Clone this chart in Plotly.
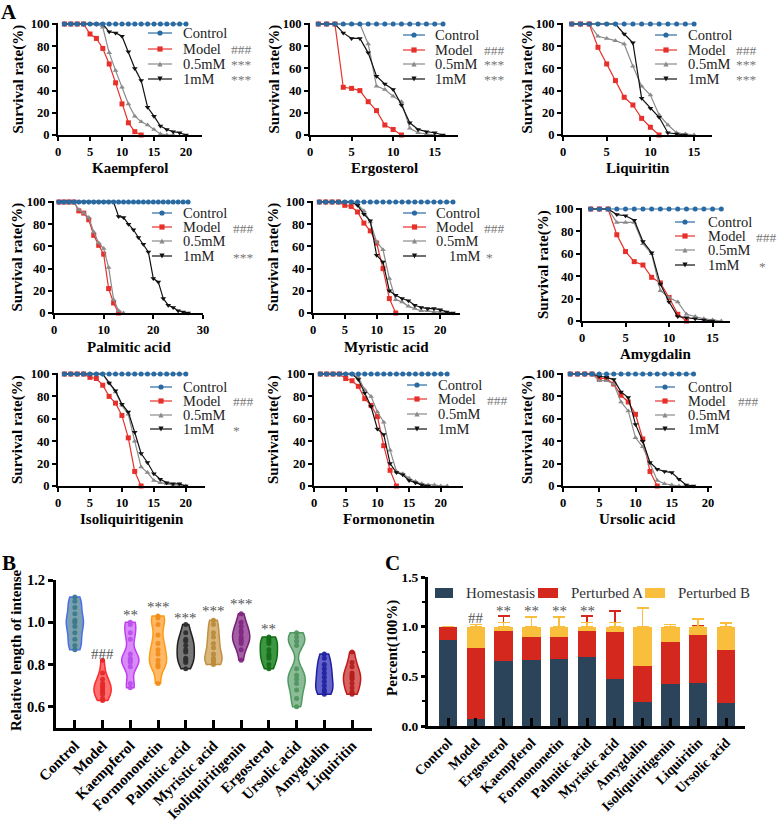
import plotly.graph_objects as go

W, H = 778, 821
SERIF = "Liberation Serif"

def fx(x):
    return x / W

def fy(y):
    return 1 - y / H

# ---------------- Panel A: survival curves (values in %, day = index + 1) ----------------
kaempferol_control = [100, 100, 100, 100, 100, 100, 100, 100, 100, 100, 100, 100, 100, 100, 100, 100, 100, 100, 100, 100]
kaempferol_model = [100, 100, 100, 100, 91, 87, 78, 64, 47, 28, 11, 3, 0]
kaempferol_05mM = [100, 100, 100, 100, 100, 100, 97, 74, 58, 43, 28, 17, 12, 9, 5, 1, 0, 0]
kaempferol_1mM = [100, 100, 100, 100, 100, 100, 100, 93, 92, 89, 75, 60, 49, 25, 17, 8, 5, 3, 2, 0]

ergosterol_control = [100, 100, 100, 100, 100, 100, 100, 100, 100, 100, 100, 100, 100, 100, 100, 100]
ergosterol_model = [100, 100, 100, 43, 42, 40, 30, 22, 9, 5, 0]
ergosterol_05mM = [100, 100, 100, 100, 100, 100, 82, 44, 41, 35, 30, 6, 2, 1, 0]
ergosterol_1mM = [100, 100, 100, 92, 87, 87, 74, 53, 46, 41, 27, 11, 5, 3, 2, 0]

liquiritin_control = [100, 100, 100, 100, 100, 100, 100, 100, 100, 100, 100, 100, 100, 100, 100]
liquiritin_model = [100, 100, 100, 79, 64, 49, 34, 27, 15, 7, 0]
liquiritin_05mM = [100, 100, 100, 89, 87, 85, 82, 62, 44, 36, 18, 9, 2, 1, 0]
liquiritin_1mM = [100, 100, 100, 100, 100, 100, 91, 83, 33, 24, 16, 2, 1, 0]

palmitic_control = [100, 100, 100, 100, 100, 100, 100, 100, 100, 100, 100, 100, 100, 100,
                    100, 100, 100, 100, 100, 100, 100, 100, 100, 100, 100, 100, 100]
palmitic_model = [100, 100, 100, 100, 92, 90, 84, 70, 61, 53, 22, 9, 0]
palmitic_05mM = [100, 100, 100, 100, 93, 90, 86, 73, 63, 58, 41, 12, 2, 0]
palmitic_1mM = [100, 100, 100, 100, 100, 100, 100, 100, 100, 100, 100, 100, 87, 86, 80, 75,
                68, 62, 55, 31, 28, 13, 7, 5, 2, 1, 0]

myristic_control = [100, 100, 100, 100, 100, 100, 100, 100, 100, 100, 100,
                    100, 100, 100, 100, 100, 100, 100, 100, 100, 100, 100]
myristic_model = [100, 100, 100, 100, 97, 96, 91, 81, 74, 63, 40, 13, 0]
myristic_05mM = [100, 100, 100, 100, 100, 100, 98, 92, 82, 64, 57, 31, 12, 10, 6, 4, 2, 2, 1, 1, 0]
myristic_1mM = [100, 100, 100, 100, 100, 100, 97, 89, 83, 52, 46, 20, 16, 13, 11, 7, 5, 4, 4, 3, 1, 0]

amygdalin_control = [100, 100, 100, 100, 100, 100, 100, 100, 100, 100, 100, 100, 100, 100, 100, 100]
amygdalin_model = [100, 100, 100, 77, 62, 53, 50, 39, 34, 21, 6, 0]
amygdalin_05mM = [100, 100, 100, 88, 88, 88, 69, 60, 27, 21, 17, 6, 4, 2, 1, 0]
amygdalin_1mM = [100, 100, 100, 95, 94, 90, 71, 61, 33, 17, 4, 3, 2, 1, 0]

isoliq_control = [100, 100, 100, 100, 100, 100, 100, 100, 100, 100, 100, 100, 100, 100, 100, 100, 100, 100, 100, 100]
isoliq_model = [100, 100, 100, 100, 97, 96, 90, 80, 74, 63, 43, 13, 0]
isoliq_05mM = [100, 100, 100, 100, 100, 100, 100, 92, 84, 72, 64, 40, 17, 12, 5, 3, 2, 1, 1, 0]
isoliq_1mM = [100, 100, 100, 100, 100, 100, 100, 92, 85, 73, 66, 48, 29, 21, 11, 6, 3, 2, 2, 0]

formononetin_control = [100, 100, 100, 100, 100, 100, 100, 100, 100, 100, 100,
                        100, 100, 100, 100, 100, 100, 100, 100, 100, 100]
formononetin_model = [100, 100, 100, 100, 96, 94, 89, 78, 72, 62, 36, 14, 0]
formononetin_05mM = [100, 100, 100, 100, 100, 100, 97, 86, 80, 66, 57, 32, 13, 11, 7, 4, 2, 1, 1, 0, 0]
formononetin_1mM = [100, 100, 100, 100, 100, 100, 95, 83, 71, 51, 46, 20, 12, 10, 5, 3, 1, 0]

ursolic_control = [100, 100, 100, 100, 100, 100, 100, 100, 100, 100, 100, 100, 100, 100, 100, 100, 100, 100]
ursolic_model = [100, 100, 100, 100, 96, 96, 91, 81, 75, 64, 42, 13, 0]
ursolic_05mM = [100, 100, 100, 100, 94, 94, 91, 75, 67, 43, 35, 20, 5, 2, 1, 0, 0]
ursolic_1mM = [100, 100, 100, 100, 98, 97, 95, 84, 79, 55, 40, 21, 15, 13, 12, 6, 1, 0]

series_names = ["Control", "Model", "0.5mM", "1mM"]

# ---------------- Panel B: relative length of intestine ----------------
b_categories = ["Control", "Model", "Kaempferol", "Formononetin", "Palmitic acid", "Myristic acid",
                "Isoliquiritigenin", "Ergosterol", "Ursolic acid", "Amygdalin", "Liquiritin"]
b_control = [1.12, 1.10, 1.07, 1.04, 1.01, 1.00, 0.98, 0.95, 0.92, 0.89, 0.87]
b_model = [0.82, 0.76, 0.73, 0.71, 0.70, 0.69, 0.68, 0.67, 0.66, 0.64, 0.63]
b_kaempferol = [1.00, 0.99, 0.95, 0.92, 0.85, 0.83, 0.82, 0.81, 0.79, 0.71, 0.69]
b_formononetin = [1.03, 1.02, 0.99, 0.94, 0.90, 0.87, 0.85, 0.82, 0.80, 0.79, 0.71]
b_palmitic = [0.99, 0.95, 0.92, 0.91, 0.89, 0.87, 0.86, 0.83, 0.82, 0.81, 0.78]
b_myristic = [1.01, 0.99, 0.95, 0.93, 0.90, 0.88, 0.85, 0.83, 0.82, 0.81, 0.80]
b_isoliq = [1.04, 1.00, 0.98, 0.96, 0.95, 0.93, 0.92, 0.91, 0.90, 0.87, 0.82]
b_ergosterol = [0.93, 0.92, 0.91, 0.90, 0.87, 0.85, 0.84, 0.83, 0.80, 0.78]
b_ursolic = [0.95, 0.93, 0.91, 0.89, 0.78, 0.75, 0.73, 0.71, 0.68, 0.64, 0.60]
b_amygdalin = [0.85, 0.83, 0.80, 0.78, 0.76, 0.74, 0.72, 0.70, 0.68, 0.67, 0.66]
b_liquiritin = [0.86, 0.81, 0.79, 0.76, 0.75, 0.74, 0.73, 0.71, 0.69, 0.67, 0.66]
b_values = [b_control, b_model, b_kaempferol, b_formononetin, b_palmitic, b_myristic,
            b_isoliq, b_ergosterol, b_ursolic, b_amygdalin, b_liquiritin]
b_sig_labels = ["", "###", "**", "***", "***", "***", "***", "**", "", "", ""]
b_sig_y = [0, 0.85, 1.035, 1.07, 1.02, 1.053, 1.085, 0.968, 0, 0, 0]

# ---------------- Panel C: phenotype percentages ----------------
c_categories = ["Control", "Model", "Ergosterol", "Kaempferol", "Formononetin", "Palmitic acid",
                "Myristic acid", "Amygdalin", "Isoliquiritigenin", "Liquiritin", "Ursolic acid"]
c_homeostasis = [0.87, 0.07, 0.655, 0.66, 0.67, 0.69, 0.47, 0.245, 0.423, 0.436, 0.228]
c_perturbed_a = [0.13, 0.72, 0.30, 0.24, 0.23, 0.27, 0.48, 0.355, 0.425, 0.48, 0.535]
c_perturbed_b = [0.0, 0.21, 0.045, 0.10, 0.10, 0.04, 0.05, 0.40, 0.152, 0.084, 0.237]
c_err_homeostasis = [0.0, 0.01, 0.11, 0.065, 0.145, 0.19, 0.16, 0.35, 0.155, 0.0, 0.105]
c_err_perturbed_a = [0.0, 0.03, 0.15, 0.035, 0.045, 0.15, 0.21, 0.06, 0.175, 0.09, 0.14]
c_err_perturbed_b = [0.0, 0.02, 0.04, 0.10, 0.10, 0.04, 0.04, 0.185, 0.02, 0.08, 0.035]
c_zero = [0, 0, 0, 0, 0, 0, 0, 0, 0, 0, 0]
c_series = ["Homestasis", "Perturbed A", "Perturbed B"]
c_sig_labels = ["", "##", "**", "**", "**", "**", "", "", "", "", ""]
c_sig_y = [0, 1.09, 1.16, 1.16, 1.16, 1.16, 0, 0, 0, 0, 0]

# ---------------- styling / layout ----------------
COL = {"Control": "#2a6aa3", "Model": "#e8302a", "0.5mM": "#8a8a8a", "1mM": "#111111"}
SYM = {"Control": "circle", "Model": "square", "0.5mM": "triangle-up", "1mM": "triangle-down"}

panels = [
    dict(title="Kaempferol", data=[kaempferol_control, kaempferol_model, kaempferol_05mM, kaempferol_1mM],
         x0=58, x1=202, xr=22.5, yt=24, yb=135, dtick=5, ty=168, yx=18,
         leg=dict(l0=148, l1=172, tx=182, rows=[33, 49, 64, 79]),
         marks=[None, ("###", 230), ("***", 230), ("***", 230)]),
    dict(title="Ergosterol", data=[ergosterol_control, ergosterol_model, ergosterol_05mM, ergosterol_1mM],
         x0=310, x1=458, xr=17.8, yt=24, yb=135, dtick=5, ty=168, yx=274,
         leg=dict(l0=403, l1=425, tx=434, rows=[35, 50, 64, 79]),
         marks=[None, ("###", 483), ("***", 483), ("***", 483)]),
    dict(title="Liquiritin", data=[liquiritin_control, liquiritin_model, liquiritin_05mM, liquiritin_1mM],
         x0=563, x1=712, xr=17.05, yt=24, yb=135, dtick=5, ty=168, yx=527,
         leg=dict(l0=655, l1=677, tx=687, rows=[35, 50, 64, 79]),
         marks=[None, ("###", 735), ("***", 735), ("***", 735)]),
    dict(title="Palmitic acid", data=[palmitic_control, palmitic_model, palmitic_05mM, palmitic_1mM],
         x0=54, x1=203, xr=30, yt=202, yb=313, dtick=10, ty=347, yx=17,
         leg=dict(l0=152, l1=172, tx=182, rows=[213, 227, 241, 256]),
         marks=[None, ("###", 232), None, ("***", 232)]),
    dict(title="Myristic acid", data=[myristic_control, myristic_model, myristic_05mM, myristic_1mM],
         x0=313, x1=460, xr=23.1, yt=202, yb=313, dtick=5, ty=347, yx=273,
         leg=dict(l0=403, l1=426, tx=435, rows=[213, 227, 241, 256], tx_last=448),
         marks=[None, ("###", 483), None, ("*", 485)]),
    dict(title="Amygdalin", data=[amygdalin_control, amygdalin_model, amygdalin_05mM, amygdalin_1mM],
         x0=582, x1=730, xr=17, yt=209, yb=321, dtick=5, ty=354, yx=543,
         leg=dict(l0=675, l1=695, tx=707, rows=[222, 236, 250, 265]),
         marks=[None, ("###", 755), None, ("*", 758)]),
    dict(title="Isoliquiritigenin", data=[isoliq_control, isoliq_model, isoliq_05mM, isoliq_1mM],
         x0=58, x1=205, xr=23, yt=374, yb=486, dtick=5, ty=519, yx=17,
         leg=dict(l0=150, l1=172, tx=182, rows=[387, 401, 415, 429]),
         marks=[None, ("###", 232), None, ("*", 232)]),
    dict(title="Formononetin", data=[formononetin_control, formononetin_model, formononetin_05mM, formononetin_1mM],
         x0=314, x1=463, xr=23.5, yt=374, yb=486, dtick=5, ty=519, yx=273,
         leg=dict(l0=407, l1=427, tx=437, rows=[385, 399, 414, 429]),
         marks=[None, ("###", 486), None, None]),
    dict(title="Ursolic acid", data=[ursolic_control, ursolic_model, ursolic_05mM, ursolic_1mM],
         x0=563, x1=712, xr=20.55, yt=374, yb=486, dtick=5, ty=519, yx=527,
         leg=dict(l0=655, l1=675, tx=687, rows=[387, 401, 415, 429]),
         marks=[None, ("###", 737), None, None]),
]

fig = go.Figure()
layout = dict(width=W, height=H, margin=dict(l=0, r=0, t=0, b=0, autoexpand=False), paper_bgcolor="white",
              plot_bgcolor="rgba(0,0,0,0)", font=dict(family=SERIF, color="#111"), showlegend=False)
annotations = []
shapes = []

YMAX = 101.0
for i, p in enumerate(panels, start=1):
    xa = "x" if i == 1 else f"x{i}"
    ya = "y" if i == 1 else f"y{i}"
    ppu = (p["yb"] - p["yt"]) / 100.0
    ytop_px = p["yb"] - YMAX * ppu
    layout["xaxis" if i == 1 else f"xaxis{i}"] = dict(
        domain=[fx(p["x0"]), fx(p["x1"])], range=[0, p["xr"]], anchor=ya, automargin=False,
        showline=True, linecolor="black", linewidth=2, ticks="outside", ticklen=4, tickwidth=2,
        tickcolor="black", dtick=p["dtick"], tick0=0, showgrid=False, zeroline=False,
        tickfont=dict(family=SERIF, size=12.5, color="black", weight="bold"), fixedrange=True)
    layout["yaxis" if i == 1 else f"yaxis{i}"] = dict(
        domain=[fy(p["yb"]), fy(ytop_px)], range=[0, YMAX], anchor=xa, automargin=False,
        showline=True, linecolor="black", linewidth=2, ticks="outside", ticklen=4, tickwidth=2,
        tickcolor="black", tickvals=[0, 20, 40, 60, 80, 100], showgrid=False, zeroline=False,
        tickfont=dict(family=SERIF, size=12.5, color="black", weight="bold"), fixedrange=True)
    for k in [1, 2, 3, 0]:
        nm = series_names[k]
        vals = p["data"][k]
        fig.add_trace(go.Scatter(
            x=list(range(1, len(vals) + 1)), y=vals, mode="lines+markers", name=nm,
            line=dict(color=COL[nm], width=1.2),
            marker=dict(symbol=SYM[nm], size=5, color=COL[nm]),
            xaxis=xa, yaxis=ya, showlegend=False, cliponaxis=False))
    annotations.append(dict(text=p["title"], x=fx((p["x0"] + p["x1"]) / 2), y=fy(p["ty"]),
                            xref="paper", yref="paper", showarrow=False, xanchor="center", yanchor="middle",
                            font=dict(family=SERIF, size=15, color="black", weight="bold")))
    annotations.append(dict(text="Survival rate(%)", x=fx(p["yx"]), y=fy((p["yt"] + p["yb"]) / 2),
                            xref="paper", yref="paper", showarrow=False, textangle=-90,
                            xanchor="center", yanchor="middle", borderpad=0,
                            font=dict(family=SERIF, size=15, color="black", weight="bold")))
    lg = p["leg"]
    for k, nm in enumerate(series_names):
        ry = lg["rows"][k]
        shapes.append(dict(type="line", xref="paper", yref="paper", x0=fx(lg["l0"]), x1=fx(lg["l1"]),
                           y0=fy(ry), y1=fy(ry), line=dict(color=COL[nm], width=1.2)))
        cx = (lg["l0"] + lg["l1"]) / 2
        s = 2.6
        if nm == "Control":
            shapes.append(dict(type="circle", xref="paper", yref="paper", x0=fx(cx - s), x1=fx(cx + s),
                               y0=fy(ry + s), y1=fy(ry - s), fillcolor=COL[nm], line=dict(width=0)))
        elif nm == "Model":
            shapes.append(dict(type="rect", xref="paper", yref="paper", x0=fx(cx - s), x1=fx(cx + s),
                               y0=fy(ry + s), y1=fy(ry - s), fillcolor=COL[nm], line=dict(width=0)))
        elif nm == "0.5mM":
            shapes.append(dict(type="path", xref="paper", yref="paper",
                               path=f"M {fx(cx - s)},{fy(ry + s)} L {fx(cx + s)},{fy(ry + s)} L {fx(cx)},{fy(ry - s)} Z",
                               fillcolor=COL[nm], line=dict(width=0)))
        else:
            shapes.append(dict(type="path", xref="paper", yref="paper",
                               path=f"M {fx(cx - s)},{fy(ry - s)} L {fx(cx + s)},{fy(ry - s)} L {fx(cx)},{fy(ry + s)} Z",
                               fillcolor=COL[nm], line=dict(width=0)))
        tx = lg["tx"]
        if k == 3 and "tx_last" in lg:
            tx = lg["tx_last"]
        annotations.append(dict(text=nm, x=fx(tx), y=fy(ry), xref="paper", yref="paper", showarrow=False,
                                xanchor="left", yanchor="middle", borderpad=0,
                                font=dict(family=SERIF, size=14.5, color="#222")))
        mk = p["marks"][k]
        if mk:
            annotations.append(dict(text=mk[0], x=fx(mk[1]), y=fy(ry + 1), xref="paper", yref="paper",
                                    showarrow=False, xanchor="left", yanchor="middle", borderpad=0,
                                    font=dict(family=SERIF, size=13.5, color="#777")))

# ---------------- Panel B: violins ----------------
violin_style = [
    ("#4a6cf0", "rgba(85,135,150,0.78)", "rgba(60,120,140,0.95)"),
    ("#ff2a2a", "rgba(255,75,75,0.8)", "rgba(225,40,40,0.95)"),
    ("#c23cf5", "rgba(208,110,245,0.8)", "rgba(185,80,235,0.95)"),
    ("#ff9a10", "rgba(255,172,75,0.85)", "rgba(240,140,30,0.95)"),
    ("#1e1e1e", "rgba(95,95,95,0.85)", "rgba(45,45,45,0.95)"),
    ("#c09040", "rgba(212,172,105,0.88)", "rgba(185,140,60,0.95)"),
    ("#7a1f7a", "rgba(150,75,150,0.88)", "rgba(130,40,130,0.95)"),
    ("#0f6e0f", "rgba(40,140,45,0.9)", "rgba(20,110,25,0.95)"),
    ("#4f9a5f", "rgba(115,172,128,0.82)", "rgba(80,150,95,0.95)"),
    ("#1f1fa0", "rgba(72,72,195,0.85)", "rgba(35,35,160,0.95)"),
    ("#c01818", "rgba(208,72,72,0.85)", "rgba(180,30,30,0.95)"),
]
for cat, vals, (lc, fc, mc) in zip(b_categories, b_values, violin_style):
    fig.add_trace(go.Violin(
        y=vals, name=cat, xaxis="x10", yaxis="y10", showlegend=False,
        points="all", pointpos=0, jitter=0, spanmode="hard", bandwidth=0.035,
        width=0.62, line=dict(color=lc, width=1.5), fillcolor=fc,
        marker=dict(size=5, color=mc), box=dict(visible=False), meanline=dict(visible=False)))

axis_font_b = dict(family=SERIF, size=15, color="black", weight="bold")
layout["xaxis10"] = dict(domain=[fx(56), fx(372)], anchor="y10", type="category", automargin=False,
                         categoryorder="array", categoryarray=b_categories, range=[-0.68, 10.72],
                         showline=True, linecolor="black", linewidth=3, ticks="inside", ticklen=8,
                         tickwidth=3, tickcolor="black", tickangle=-45, tickfont=axis_font_b,
                         showgrid=False, zeroline=False, fixedrange=True)
layout["yaxis10"] = dict(domain=[fy(728), fy(580)], anchor="x10", range=[0.5, 1.2], automargin=False,
                         tickvals=[0.6, 0.8, 1.0, 1.2], ticktext=["0.6", "0.8", "1.0", "1.2"],
                         showline=True, linecolor="black", linewidth=3, ticks="outside", ticklen=5,
                         tickwidth=3, tickcolor="black", tickfont=dict(family=SERIF, size=14.5, color="black", weight="bold"),
                         showgrid=False, zeroline=False, fixedrange=True)
layout["violinmode"] = "overlay"
annotations.append(dict(text="Relative length of intense", x=fx(16), y=fy(650), xref="paper", yref="paper",
                        showarrow=False, textangle=-90, xanchor="center", yanchor="middle", borderpad=0,
                        font=dict(family=SERIF, size=15, color="black", weight="bold")))
for cat, lab, yv in zip(b_categories, b_sig_labels, b_sig_y):
    if lab:
        annotations.append(dict(text=lab, x=cat, y=yv, xref="x10", yref="y10", showarrow=False,
                                xanchor="center", yanchor="middle",
                                font=dict(family=SERIF, size=15, color="#555")))

# ---------------- Panel C: stacked bars ----------------
C_COLORS = ["#2b4459", "#d4281f", "#f9be3c"]
c_vals = [c_homeostasis, c_perturbed_a, c_perturbed_b]
c_errs = [c_err_homeostasis, c_err_perturbed_a, c_err_perturbed_b]
for nm, vals, errs, colr in zip(c_series, c_vals, c_errs, C_COLORS):
    fig.add_trace(go.Bar(x=c_categories, y=vals, name=nm, marker=dict(color=colr, line=dict(width=0)),
                         width=0.66, xaxis="x11", yaxis="y11", showlegend=False,
                         error_y=dict(type="data", symmetric=False, array=errs, arrayminus=c_zero,
                                      color=colr, thickness=1.6, width=6)))
layout["barmode"] = "stack"
axis_font_c = dict(family=SERIF, size=14, color="black", weight="bold")
layout["xaxis11"] = dict(domain=[fx(428), fx(745)], anchor="y11", type="category", automargin=False,
                         categoryorder="array", categoryarray=c_categories, range=[-0.72, 10.68],
                         showline=True, linecolor="black", linewidth=3, ticks="inside", ticklen=8,
                         tickwidth=3, tickcolor="black", tickangle=-45, tickfont=axis_font_c,
                         showgrid=False, zeroline=False, fixedrange=True, layer="above traces")
layout["yaxis11"] = dict(domain=[fy(726), fy(577)], anchor="x11", range=[0, 1.5], automargin=False,
                         tickvals=[0, 0.5, 1.0, 1.5], ticktext=["0.0", "0.5", "1.0", "1.5"],
                         showline=True, linecolor="black", linewidth=3, ticks="outside", ticklen=4,
                         tickwidth=3, tickcolor="black", tickfont=dict(family=SERIF, size=13.5, color="black", weight="bold"),
                         minor=dict(tickvals=[0.25, 0.75, 1.25], ticks="outside", ticklen=3, tickwidth=2,
                                    tickcolor="black"),
                         showgrid=False, zeroline=False, fixedrange=True)
# legend for panel C (drawn compactly, as in the original)
c_leg = [(435, 453, 465), (538, 558, 570), (645, 665, 677)]
for nm, colr, (r0, r1, tx) in zip(c_series, C_COLORS, c_leg):
    shapes.append(dict(type="rect", xref="paper", yref="paper", x0=fx(r0), x1=fx(r1), y0=fy(598), y1=fy(588),
                       fillcolor=colr, line=dict(width=0)))
    annotations.append(dict(text=nm, x=fx(tx), y=fy(593), xref="paper", yref="paper", showarrow=False,
                            xanchor="left", yanchor="middle", borderpad=0,
                            font=dict(family=SERIF, size=15, color="#333")))
annotations.append(dict(text="Percent(100%)", x=fx(392), y=fy(648), xref="paper", yref="paper",
                        showarrow=False, textangle=-90, xanchor="center", yanchor="middle", borderpad=0,
                        font=dict(family=SERIF, size=15, color="black", weight="bold")))
for cat, lab, yv in zip(c_categories, c_sig_labels, c_sig_y):
    if lab:
        annotations.append(dict(text=lab, x=cat, y=yv, xref="x11", yref="y11", showarrow=False,
                                xanchor="center", yanchor="middle",
                                font=dict(family=SERIF, size=15, color="#555")))

for letter, lx, ly in [("A", 9, 12), ("B", 9, 563), ("C", 392, 563)]:
    annotations.append(dict(text=letter, x=fx(lx), y=fy(ly), xref="paper", yref="paper", showarrow=False,
                            xanchor="center", yanchor="middle",
                            font=dict(family=SERIF, size=21, color="black", weight="bold")))

layout["annotations"] = annotations
layout["shapes"] = shapes
fig.update_layout(**layout)
fig.write_html("out.html")
